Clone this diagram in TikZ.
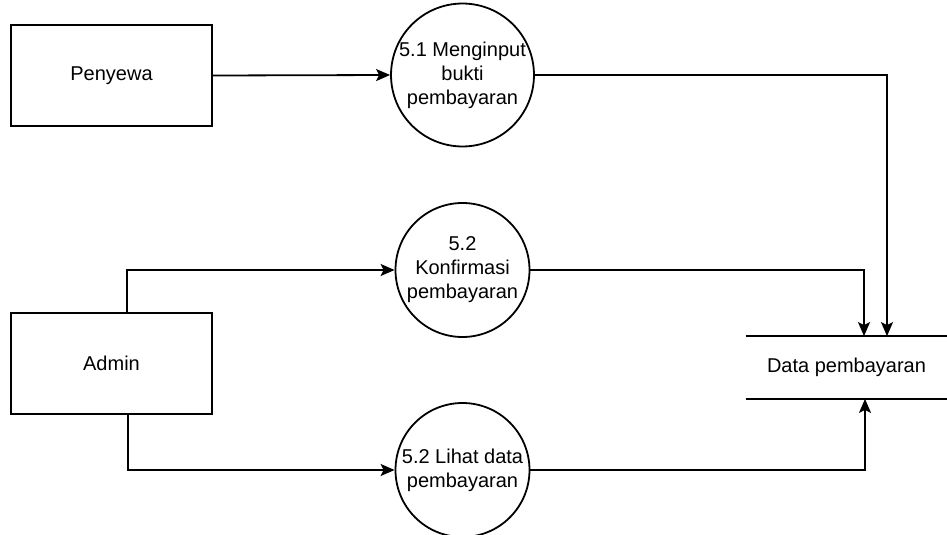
\documentclass[tikz,border=0pt]{standalone}
\usepackage{fontspec}
\setmainfont{Liberation Sans}
\usetikzlibrary{arrows.meta}
\begin{document}
\begin{tikzpicture}[x=1pt,y=-1pt,
  font=\fontsize{20}{24}\selectfont,
  line width=1.8pt,
  entity/.style={draw, minimum width=201pt, minimum height=101pt, inner sep=0pt},
  process/.style={draw, circle, minimum size=134pt, inner sep=0pt, align=center},
  storebox/.style={minimum width=200pt, minimum height=61pt, inner sep=0pt},
  flow/.style={-{Stealth[length=14pt,width=12pt,inset=3pt]}}
]
\useasboundingbox (0,0) rectangle (947,535);

% external entities
\node[entity] (penyewa) at (111.5,75.5) {Penyewa};
\node[entity] (admin) at (111.5,363.5) {Admin};

% processes
\node[process] (p51) at (462.5,75) {5.1 Menginput\\bukti\\pembayaran};
\node[process] (p52) at (462.5,270) {5.2\\Konfirmasi\\pembayaran};
\node[process] (p53) at (462.5,470) {5.2 Lihat data\\pembayaran};

% data store
\node[storebox] (store) at (846.5,367.5) {Data pembayaran};
\draw (store.north west) -- (store.north east);
\draw (store.south west) -- (store.south east);

% flows
\draw[flow] (penyewa.east) -- (p51.west);
\draw[flow] (p51.east) -| ([xshift=40.5pt]store.north);
\draw[flow] ([xshift=15.5pt]admin.north) |- (p52.west);
\draw[flow] (p52.east) -| ([xshift=17.5pt]store.north);
\draw[flow] ([xshift=16.5pt]admin.south) |- (p53.west);
\draw[flow] (p53.east) -| ([xshift=18.5pt]store.south);
\end{tikzpicture}
\end{document}
